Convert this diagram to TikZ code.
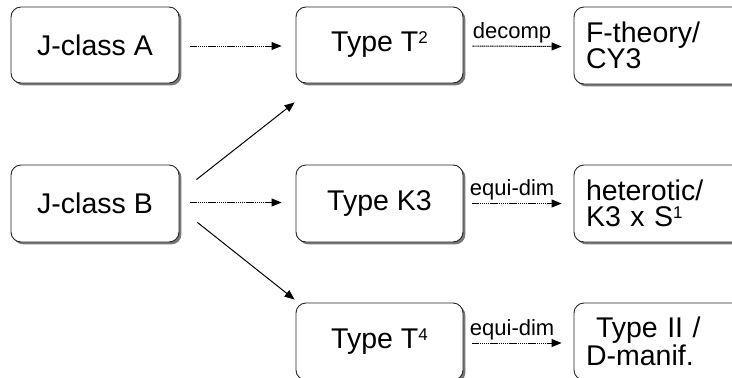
\documentclass[tikz,border=0pt]{standalone}
\usepackage{fontspec}
\setmainfont{Liberation Sans}
\usetikzlibrary{shadows,calc,arrows.meta}
\newcommand{\supx}[1]{{\fontsize{17}{17}\selectfont\raisebox{8pt}{#1}}}
\tikzset{
  box/.style={draw=black!85, line width=0.9pt, rounded corners=10pt, fill=white,
    drop shadow={shadow xshift=2.4pt, shadow yshift=-2.4pt, fill=black!75, opacity=0.7},
    font=\fontsize{28.5}{26}\selectfont, inner sep=0pt},
  rbox/.style={box, text width=148pt, align=left, inner xsep=12pt, minimum width=170pt, minimum height=77pt},
  cbox/.style={box, minimum width=167pt, minimum height=77pt},
  dasharrow/.style={line width=1pt, dash pattern=on 1.3pt off 0.6pt, -{Triangle[length=10pt,width=8pt]}},
  solarrow/.style={line width=1pt, -{Triangle[length=10pt,width=8pt]}},
  lab/.style={font=\fontsize{22}{22}\selectfont, inner sep=2.5pt}
}
\begin{document}
\begin{tikzpicture}[x=1pt,y=-1pt]
\useasboundingbox (0,0) rectangle (732,378);
\clip (0,0) rectangle (732,378);
\fill[white] (0,0) rectangle (732,378);
\node[cbox, minimum width=168pt, minimum height=76pt] (A) at (95,45) {J-class A};
\node[cbox, minimum height=76pt] (T2) at (379.5,45) {Type T\supx{2}};
\node[rbox] (F) at (660,45.5) {F-theory/\\CY3};
\node[cbox, minimum width=168pt] (B) at (95,203.5) {J-class B};
\node[cbox] (K3) at (379.5,203.5) {Type K3};
\node[rbox] (H) at (660,203.5) {heterotic/\\K3 x S\supx{1}};
\node[cbox] (T4) at (379.5,341.5) {Type T\supx{4}};
\node[rbox] (II) at (660,341.5) {\hspace{10pt}Type II /\\D-manif.};

\draw[dasharrow] ($(A.east)+(11,1)$) -- ($(T2.west)+(-14,1)$);
\draw[dasharrow] ($(T2.east)+(9,1)$) -- node[lab, pos=0, above right, inner xsep=0pt] {decomp} ($(F.west)+(-12,1)$);
\draw[dasharrow] ($(B.east)+(11,-1)$) -- ($(K3.west)+(-14,-1)$);
\draw[dasharrow] ($(K3.east)+(9,0)$) -- node[lab, pos=0, above right, inner xsep=0pt, xshift=-3pt] {equi-dim} ($(H.west)+(-12,0)$);
\draw[dasharrow] ($(T4.east)+(9,1.5)$) -- node[lab, pos=0, above right, inner xsep=0pt, xshift=-3pt] {equi-dim} ($(II.west)+(-12,1.5)$);
\draw[solarrow] ($(B.north east)+(17,15)$) -- ($(T2.south west)+(-1,19)$);
\draw[solarrow] ($(B.south east)+(18,-20)$) -- ($(T4.north west)+(-1,-3)$);
\end{tikzpicture}
\end{document}
